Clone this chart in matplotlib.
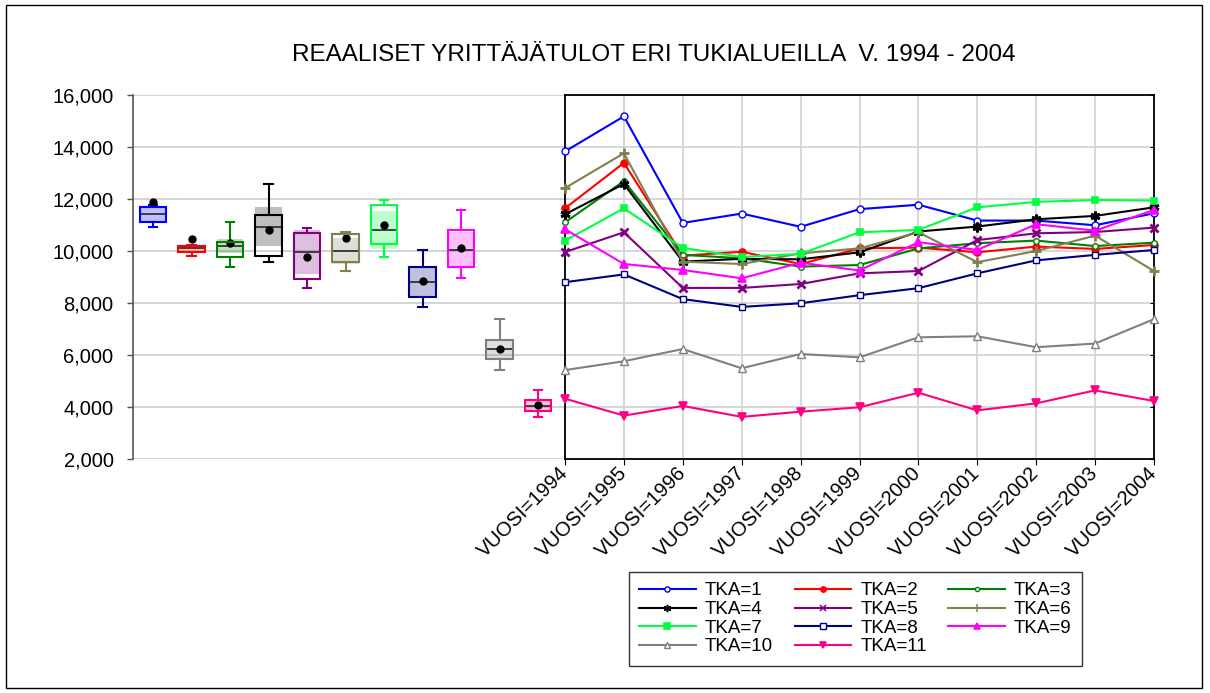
import numpy as np
import matplotlib
matplotlib.use('Agg')
import matplotlib.pyplot as plt
from matplotlib import cbook
from matplotlib.patches import Rectangle
from matplotlib.ticker import FuncFormatter

plt.rcParams['font.family'] = ['Liberation Sans', 'DejaVu Sans']

# Data
years = [1994, 1995, 1996, 1997, 1998, 1999, 2000, 2001, 2002, 2003, 2004]
year_labels = ['VUOSI=%d' % y for y in years]
names = ['TKA=1', 'TKA=2', 'TKA=3', 'TKA=4', 'TKA=5', 'TKA=6',
         'TKA=7', 'TKA=8', 'TKA=9', 'TKA=10', 'TKA=11']

tka1 = [13830, 15180, 11080, 11440, 10930, 11610, 11780, 11170, 11170, 10990, 11450]
tka2 = [11640, 13390, 9820, 9970, 9500, 10100, 10130, 9950, 10170, 10080, 10230]
tka3 = [11100, 12690, 9850, 9720, 9400, 9460, 10100, 10300, 10400, 10190, 10320]
tka4 = [11410, 12580, 9590, 9700, 9680, 9950, 10750, 10940, 11220, 11350, 11680]
tka5 = [9960, 10720, 8580, 8580, 8730, 9140, 9230, 10420, 10680, 10730, 10900]
tka6 = [12420, 13760, 9590, 9500, 9910, 10100, 10720, 9570, 10000, 10590, 9230]
tka7 = [10400, 11640, 10120, 9770, 9890, 10720, 10810, 11680, 11890, 11960, 11940]
tka8 = [8800, 9100, 8150, 7850, 7990, 8300, 8570, 9140, 9640, 9850, 10040]
tka9 = [10840, 9500, 9270, 8950, 9550, 9250, 10340, 10040, 11030, 10780, 11580]
tka10 = [5420, 5760, 6230, 5490, 6040, 5910, 6680, 6720, 6300, 6440, 7380]
tka11 = [4320, 3670, 4040, 3620, 3820, 3990, 4550, 3870, 4140, 4640, 4230]

series = [tka1, tka2, tka3, tka4, tka5, tka6, tka7, tka8, tka9, tka10, tka11]

colors = ['#0000FF', '#FF0000', '#008000', '#000000', '#800080', '#808050',
          '#00FF40', '#000080', '#FF00FF', '#808080', '#FF0080']
markers = ['o', 'o', 'o', (6, 2, 0), 'x', '+', 's', 's', '^', '^', 'v']
open_marker = [True, False, True, False, False, False, False, True, False, True, False]
msizes = [5, 5, 4, 7, 6, 7, 5, 5, 5.5, 5.5, 5.5]

W, H = 1210, 693
fig = plt.figure(figsize=(W / 100, H / 100), dpi=100)

# whole-figure frame
fig.patches.append(Rectangle((6 / W, 5 / H), 1196 / W, 683 / H, transform=fig.transFigure,
                             fill=False, edgecolor='black', linewidth=1))

bottom = (H - 459) / H
height = (459 - 95) / H
x_split = 565 / W
ax_box = fig.add_axes([133 / W, bottom, x_split - 133 / W, height])
ax_line = fig.add_axes([x_split, bottom, 1154 / W - x_split, height])

yticks = [2000, 4000, 6000, 8000, 10000, 12000, 14000, 16000]
fmt = FuncFormatter(lambda v, p: '{:,.0f}'.format(v))

# ---- box plots ----
positions = list(range(1, 12))
bw = 0.68
bp = ax_box.boxplot(series, positions=positions, widths=bw, whis=1.5, showfliers=False,
                    showmeans=True, patch_artist=True, capwidths=0.22,
                    medianprops=dict(color='#333333', linewidth=1.3),
                    meanprops=dict(marker='o', markerfacecolor='black', markeredgecolor='black',
                                   markersize=5))
for i, c in enumerate(colors):
    bp['boxes'][i].set_facecolor('none')
    bp['boxes'][i].set_edgecolor(c)
    bp['boxes'][i].set_linewidth(1.5)
    bp['boxes'][i].set_zorder(3)
    for k in (2 * i, 2 * i + 1):
        bp['whiskers'][k].set_color(c)
        bp['whiskers'][k].set_linewidth(1.5)
        bp['caps'][k].set_color(c)
        bp['caps'][k].set_linewidth(1.5)
    # shaded median confidence band
    st = cbook.boxplot_stats(np.array(series[i]), whis=1.5)[0]
    p = positions[i]
    ax_box.fill_between([p - bw / 2, p + bw / 2], st['cilo'], st['cihi'],
                        color=c, alpha=0.25, linewidth=0, zorder=2)

ax_box.set_xlim(0.48, 11.7)
ax_box.set_ylim(2000, 16000)
ax_box.set_yticks(yticks)
ax_box.yaxis.set_major_formatter(fmt)
ax_box.set_xticks([])
for s in ('top', 'right', 'bottom'):
    ax_box.spines[s].set_visible(False)
ax_box.spines['left'].set_color('#555555')
ax_box.spines['left'].set_linewidth(1.2)
ax_box.tick_params(axis='y', length=4, width=1, color='#555555', pad=10, labelsize=14.5)
ax_box.grid(axis='y', color='#D0D0D0', linewidth=1.3)
ax_box.set_axisbelow(True)

# ---- line chart ----
x = np.arange(len(years))
handles = []
for i, s in enumerate(series):
    mfc = 'white' if open_marker[i] else colors[i]
    mew = 1.0 if open_marker[i] else 1.2
    if markers[i] in ('x', '+') or isinstance(markers[i], tuple):
        mew = 2.0
    h, = ax_line.plot(x, s, color=colors[i], linewidth=1.5, marker=markers[i],
                      markersize=msizes[i], markerfacecolor=mfc, markeredgecolor=colors[i],
                      markeredgewidth=mew, label=names[i], clip_on=False, zorder=3)
    handles.append(h)

ax_line.set_xlim(0, 10)
ax_line.set_ylim(2000, 16000)
ax_line.set_yticks(yticks)
ax_line.set_xticks(x)
ax_line.set_xticklabels(year_labels, rotation=45, ha='right', va='center',
                        rotation_mode='anchor', fontsize=14.5)
ax_line.tick_params(axis='y', left=False, labelleft=False, right=True, direction='in', length=3)
ax_line.tick_params(axis='x', length=4, pad=4)
ax_line.grid(True, color='#D4D4D4', linewidth=1.3)
ax_line.set_axisbelow(True)
for s in ax_line.spines.values():
    s.set_linewidth(1.3)

# ---- title ----
fig.text(654 / W, 1 - 55 / H, 'REAALISET YRITTÄJÄTULOT ERI TUKIALUEILLA  V. 1994 - 2004',
         ha='center', va='center', fontsize=17.5)

# ---- legend (row-wise order) ----
order = [0, 3, 6, 9, 1, 4, 7, 10, 2, 5, 8]
leg = fig.legend([handles[k] for k in order], [names[k] for k in order], ncol=3,
                 loc='upper left', bbox_to_anchor=(629 / W, 1 - 572 / H),
                 fontsize=13.5, frameon=True, fancybox=False, edgecolor='black',
                 handlelength=3.0, handletextpad=0.5, columnspacing=1.15,
                 labelspacing=0.08, borderpad=0.55, borderaxespad=0, markerscale=0.75)
leg.get_frame().set_linewidth(1.0)
# thinner strokes for the line-type markers in the legend
for lh, k in zip(leg.legend_handles, order):
    if markers[k] in ('x', '+') or isinstance(markers[k], tuple):
        lh.set_markeredgewidth(1.1)

fig.savefig('out.png', dpi=100)
